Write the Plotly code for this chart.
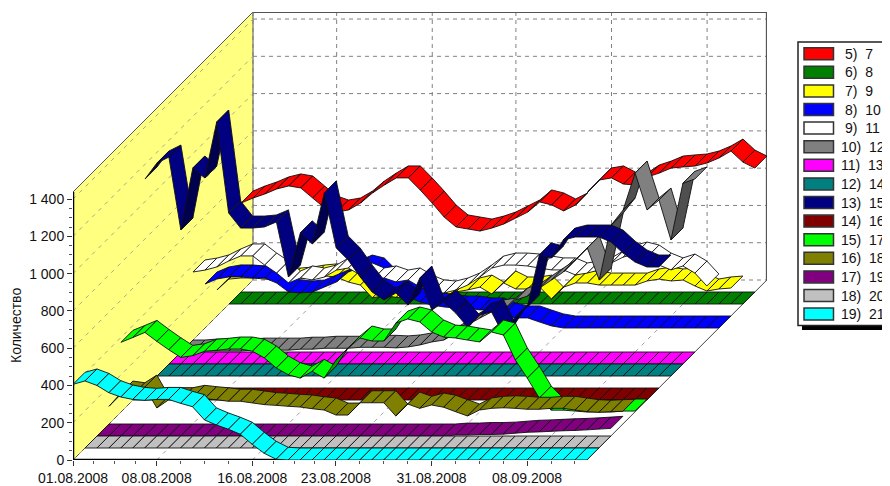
import plotly.graph_objects as go

tick_days = [0, 7, 15, 22, 30, 38]
tick_labels = ["01.08.2008", "08.08.2008", "16.08.2008", "23.08.2008", "31.08.2008", "08.09.2008"]
minor_days = [1.75, 3.5, 5.25, 9, 11, 13, 16.75, 18.5, 20.25, 24, 26, 28, 32, 34, 36, 40, 42]
y_ticks = [0, 200, 400, 600, 800, 1000, 1200, 1400]
y_labels = ["0", "200", "400", "600", "800", "1 000", "1 200", "1 400"]
n_days = 43

s7 = [477,504,526,553,569,558,504,451,429,440,477,531,574,612,612,547,477,402,349,338,327,343,365,397,429,483,467,435,467,537,601,612,579,574,617,638,665,671,676,692,719,756,697,665]
s8 = [0]*44
s9 = [140,198,204,204,198,193,193,198,209,215,209,182,166,97,110,100,95,95,100,110,129,140,155,118,177,145,145,155,91,155,177,177,166,166,166,166,188,198,188,193,161,134,145,150]
s10 = [236,263,274,274,268,268,241,193,188,193,220,247,300,327,311,247,204,166,140,123,113,107,107,97,97,70,54,54,32,11,0,0,0,0,0,0,0,0,0,0,0,0,0,0]
s11 = [365,375,392,424,451,451,402,359,306,333,322,338,375,386,349,322,333,311,322,284,258,252,268,295,338,386,402,402,397,386,376,376,349,359,376,413,445,461,445,402,376,397,359,290]
s12 = [0,0,5,5,5,5,10,10,10,10,15,15,20,20,20,25,25,25,22,27,38,54,64,102,145,182,215,225,279,300,343,386,429,494,558,386,681,762,960,762,815,601,905,928]
s13 = [0]*44
s14 = [0]*44
s15 = [1121,1207,1239,848,1180,1127,1427,939,858,858,864,891,596,832,773,1046,751,687,596,515,472,510,445,590,418,461,402,327,392,408,284,381,435,714,697,794,810,810,810,783,724,676,649,649]
s16 = [0]*44
s17 = [374,400,427,379,334,293,302,326,331,338,338,326,290,236,200,182,218,182,279,343,397,381,381,477,499,483,429,402,397,386,376,429,413,279,182,75,10,10,5,0,0,0,5,5]
s18 = [95,166,157,198,86,130,130,143,136,130,122,122,113,104,100,95,91,82,75,48,48,114,114,114,43,107,84,102,90,66,43,75,84,87,84,79,79,84,84,75,66,63,66,68]
s19 = [0,0,0,0,0,0,0,0,0,0,0,0,0,0,0,0,0,0,0,0,0,0,0,0,0,0,0,0,0,0,5,5,8,8,10,15,20,22,25,28,30,33,37,41]
s20 = [0]*44
s21 = [406,424,400,361,338,325,320,325,325,304,286,215,188,165,138,84,36,4,0,0,0,0,0,0,0,0,0,0,0,0,0,0,0,0,0,0,0,0,0,0,0,0,0,0]

names = ["5)  7", "6)  8", "7)  9", "8)  10", "9)  11", "10)  12", "11)  13", "12)  14", "13)  15", "14)  16", "15)  17", "16)  18", "17)  19", "18)  20", "19)  21"]
colors = ["#FF0000", "#008000", "#FFFF00", "#0000FF", "#FFFFFF", "#808080", "#FF00FF", "#008080", "#000080", "#800000", "#00FF00", "#808000", "#800080", "#C0C0C0", "#00FFFF"]
series = [s7, s8, s9, s10, s11, s12, s13, s14, s15, s16, s17, s18, s19, s20, s21]

# page geometry of the oblique box (the page body has an 8 px margin)
PAGE = 8
L, R, T, B = 73, 767, 12, 460
PX_DAY = 11.95
PX_UNIT = 0.1864
SLOT = 12
DX = SLOT / PX_DAY       # one depth slot in x-axis units
DY = SLOT / PX_UNIT      # one depth slot in y-axis units
DEPTH = len(series)
xmax = (R - L) / PX_DAY
ymax = (B - T) / PX_UNIT
ytop = (B - 192) / PX_UNIT


def darker(c):
    r, g, b = int(c[1:3], 16), int(c[3:5], 16), int(c[5:7], 16)
    return "rgb(%d,%d,%d)" % (r * .62, g * .62, b * .62)


def px(x):
    return (x - L) / (R - L)


def py(y):
    return (B - y) / (B - T)


fig = go.Figure()
shapes = []
ann = []

# walls and floor
shapes.append(dict(type="path", layer="below", fillcolor="#FFFF80", line=dict(color="#555555", width=1),
                   path=f"M0,0 L{DEPTH*DX},{DEPTH*DY} L{DEPTH*DX},{ytop+DEPTH*DY} L0,{ytop} Z"))
GRID = dict(color="#808080", width=1, dash="4px,4px")
WALLGRID = dict(color="#A8A890", width=1, dash="4px,5px")
FLOORGRID = dict(color="#A0A0A0", width=1, dash="4px,5px")
for v in y_ticks:
    shapes.append(dict(type="line", layer="below", line=WALLGRID, x0=0, y0=v, x1=DEPTH*DX, y1=v+DEPTH*DY))
    shapes.append(dict(type="line", layer="below", line=GRID, x0=DEPTH*DX, y0=v+DEPTH*DY, x1=n_days+DEPTH*DX, y1=v+DEPTH*DY))
for d in tick_days[1:]:
    shapes.append(dict(type="line", layer="below", line=GRID, x0=d+DEPTH*DX, y0=DEPTH*DY, x1=d+DEPTH*DX, y1=ytop+DEPTH*DY))
    shapes.append(dict(type="line", layer="below", line=FLOORGRID, x0=d, y0=0, x1=d+DEPTH*DX, y1=DEPTH*DY))
shapes.append(dict(type="line", layer="below", line=GRID, x0=DEPTH*DX, y0=DEPTH*DY, x1=DEPTH*DX, y1=ytop+DEPTH*DY))
EDGE = dict(color="#555555", width=2)
shapes.append(dict(type="line", layer="below", line=EDGE, x0=DEPTH*DX, y0=ytop+DEPTH*DY, x1=n_days+DEPTH*DX, y1=ytop+DEPTH*DY))
shapes.append(dict(type="line", layer="below", line=EDGE, x0=n_days+DEPTH*DX, y0=DEPTH*DY, x1=n_days+DEPTH*DX, y1=ytop+DEPTH*DY))
shapes.append(dict(type="line", layer="below", line=dict(color="#444444", width=1), x0=n_days, y0=0, x1=n_days+DEPTH*DX, y1=DEPTH*DY))
# thick axes
shapes.append(dict(type="line", layer="below", line=dict(color="black", width=2.5), x0=0, y0=0, x1=0, y1=ytop))
shapes.append(dict(type="line", layer="below", line=dict(color="black", width=2.5), x0=0, y0=0, x1=n_days, y1=0))

# ribbons, from the back slot to the front slot
for i, (vals, col) in enumerate(zip(series, colors)):
    s = DEPTH - 1 - i
    for k in range(len(vals) - 1):
        x1, x2 = k + s*DX, k + 1 + s*DX
        y1, y2 = vals[k] + s*DY, vals[k+1] + s*DY
        underside = (vals[k+1] - vals[k]) * PX_UNIT > PX_DAY
        fig.add_trace(go.Scatter(
            x=[x1, x2, x2+DX, x1+DX, x1],
            y=[y1, y2, y2+DY, y1+DY, y1],
            mode="lines", fill="toself",
            fillcolor=darker(col) if underside else col,
            line=dict(color="#101010", width=0.9),
            hoverinfo="skip", showlegend=False))

# legend box (page-anchored, it overruns the page on the right)
def rect(x0, y0, x1, y1, fill, line=None, w=1):
    return dict(type="rect", xref="paper", yref="paper", x0=px(x0), x1=px(x1), y0=py(y0), y1=py(y1),
                fillcolor=fill, line=dict(color=line or fill, width=w if line else 0), layer="above")

shapes.append(rect(802, 46, 900, 330, "black"))
shapes.append(rect(798, 42, 900, 325.5, "white", "#222222", 1.5))
for i, (n, col) in enumerate(zip(names, colors)):
    yc = 53.7 + i * 18.6
    shapes.append(rect(804, yc - 6, 833.5, yc + 6, col, "#333333", 1.5))
    ann.append(dict(xref="paper", yref="paper", x=px(839 if i >= 5 else 843), y=py(yc), xanchor="left", yanchor="middle",
                    showarrow=False, text=n, font=dict(family="Liberation Sans", size=14, color="#111111")))

ann.append(dict(xref="paper", yref="paper", x=px(16), y=py(326), xanchor="center", yanchor="middle", textangle=-90,
                showarrow=False, text="Количество", font=dict(family="Liberation Sans", size=14, color="#111111")))

fig.update_layout(
    width=890 - PAGE, height=486 - PAGE, autosize=False,
    margin=dict(l=L - PAGE, r=890 - R, t=T - PAGE, b=486 - B, pad=0, autoexpand=False),
    paper_bgcolor="white", plot_bgcolor="white",
    showlegend=False, shapes=shapes, annotations=ann,
    xaxis=dict(range=[0, xmax], automargin=False, showgrid=False, zeroline=False, showline=False, tickmode="array",
               tickvals=tick_days, ticktext=tick_labels, ticks="outside", ticklen=5, tickcolor="#333333", tickwidth=1,
               tickfont=dict(family="Liberation Sans", size=14, color="#111111"),
               minor=dict(tickmode="array", tickvals=minor_days, ticks="outside", ticklen=3, tickcolor="#555555", showgrid=False)),
    yaxis=dict(range=[0, ymax], automargin=False, showgrid=False, zeroline=False, showline=False, tickmode="array",
               tickvals=y_ticks, ticktext=y_labels, ticks="outside", ticklen=5, tickcolor="#333333", tickwidth=1,
               tickfont=dict(family="Liberation Sans", size=14, color="#111111"),
               minor=dict(tickmode="array", tickvals=[50,100,150,250,300,350,450,500,550,650,700,750,850,900,950,1050,1100,1150,1250,1300,1350],
                          ticks="outside", ticklen=3, tickcolor="#555555", showgrid=False)),
)
fig.write_html("out.html", config={"displayModeBar": False})
